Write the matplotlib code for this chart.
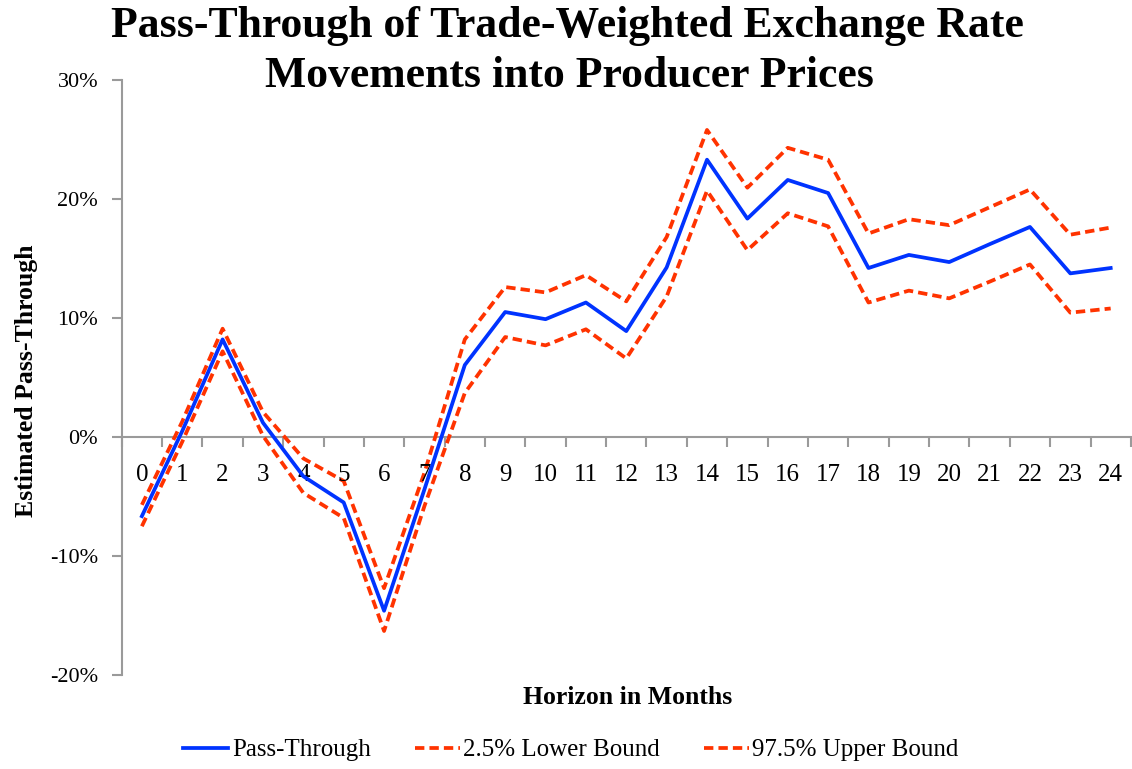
import matplotlib
matplotlib.use("Agg")
import matplotlib.pyplot as plt
from matplotlib.ticker import FuncFormatter, FixedLocator

months = list(range(25))
pass_through = [-6.65, 0.5, 8.2, 1.2, -3.3, -5.5, -14.6, -4.4, 6.05, 10.5, 9.9, 11.3, 8.9,
                14.25, 23.3, 18.35, 21.6, 20.5, 14.2, 15.3, 14.7, 16.2, 17.65, 13.75, 14.2]
lower_bound = [-7.5, -0.4, 7.2, 0.1, -4.7, -6.8, -16.3, -5.8, 3.7, 8.4, 7.7, 9.05, 6.6,
               11.8, 20.7, 15.7, 18.8, 17.7, 11.3, 12.3, 11.65, 13.05, 14.5, 10.45, 10.8]
upper_bound = [-5.7, 1.3, 9.1, 2.1, -1.8, -3.7, -12.7, -3.0, 8.2, 12.6, 12.15, 13.6, 11.4,
               16.8, 25.8, 20.95, 24.3, 23.3, 17.1, 18.3, 17.8, 19.3, 20.8, 17.0, 17.6]
y_ticks = [-20, -10, 0, 10, 20, 30]

plt.rcParams['font.family'] = ['Liberation Serif', 'DejaVu Serif']

W, H = 1132, 769
fig = plt.figure(figsize=(W / 100, H / 100), dpi=100)
ax = fig.add_axes([0.1075, 0.1222, 0.8915, 0.7738])

blue = '#0033FF'
red = '#FF3300'
dash = (0, (2.5, 1.35))
ax.plot(months, pass_through, color=blue, lw=2.7, label='Pass-Through', zorder=4)
ax.plot(months, lower_bound, color=red, lw=2.7, ls=dash, label='2.5% Lower Bound', zorder=3)
ax.plot(months, upper_bound, color=red, lw=2.7, ls=dash, label='97.5% Upper Bound', zorder=3)

ax.set_xlim(-0.5, 24.5)
ax.set_ylim(-20, 30)
ax.set_yticks(y_ticks)
ax.yaxis.set_major_formatter(FuncFormatter(lambda v, p: f"{int(v)}%"))

gray = '#9a9a9a'
for s in ['top', 'right']:
    ax.spines[s].set_visible(False)
ax.spines['left'].set_color(gray)
ax.spines['left'].set_linewidth(1.5)
ax.spines['bottom'].set_position(('data', 0))
ax.spines['bottom'].set_color(gray)
ax.spines['bottom'].set_linewidth(1.5)

ax.xaxis.set_major_locator(FixedLocator([m - 0.5 for m in months] + [24.5]))
ax.xaxis.set_major_formatter(FuncFormatter(lambda v, p: ''))
ax.tick_params(axis='x', which='major', direction='out', length=7, color=gray, width=1.5)
ax.tick_params(axis='y', direction='out', length=7, color=gray, width=1.5, labelsize=16, pad=10)
for m in months:
    ax.text(m, -3.2, str(m), ha='center', va='center', fontsize=18, color='black')

fig.text(27 / W, 1 - 380.5 / H, 'Estimated Pass-Through', rotation=90,
         ha='center', va='center', fontsize=18.5, fontweight='bold')
fig.text(628 / W, 1 - 703.5 / H, 'Horizon in Months', ha='center', va='baseline',
         fontsize=18.5, fontweight='bold')
fig.text(567.5 / W, 1 - 37 / H, 'Pass-Through of Trade-Weighted Exchange Rate',
         ha='center', va='baseline', fontsize=31.5, fontweight='bold')
fig.text(569 / W, 1 - 87 / H, 'Movements into Producer Prices',
         ha='center', va='baseline', fontsize=31.5, fontweight='bold')

leg = fig.legend(loc='center', bbox_to_anchor=(571 / W, 1 - 750 / H), ncol=3, frameon=False,
                 fontsize=18, handlelength=1.8, columnspacing=1.75, handletextpad=0.15)

fig.savefig('out.png', dpi=100)
